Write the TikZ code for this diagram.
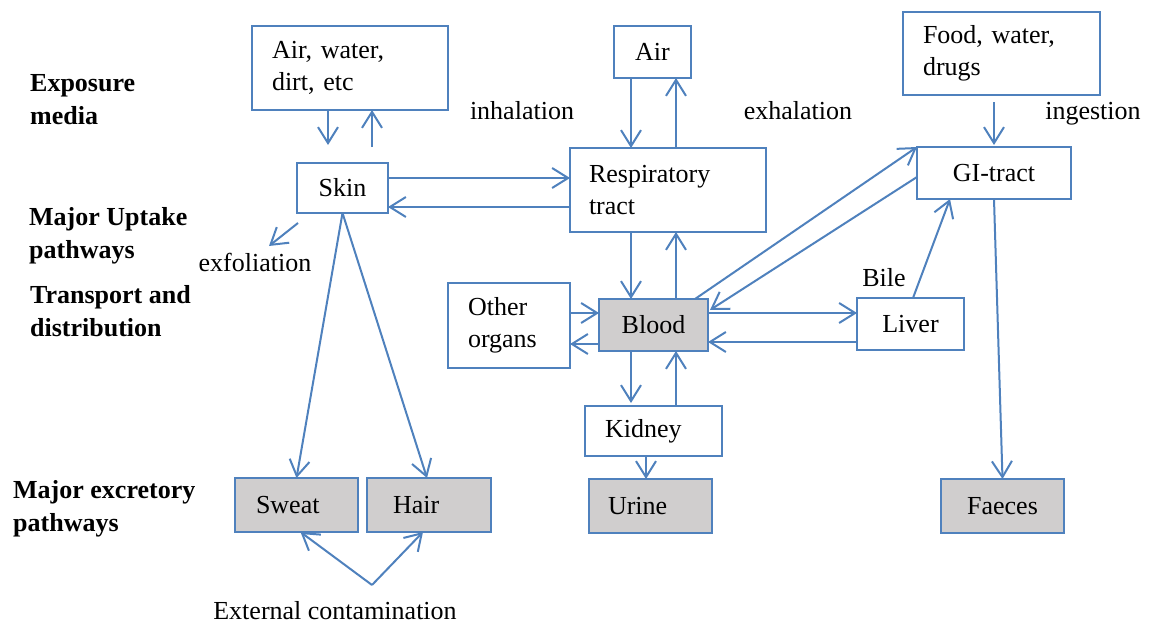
\documentclass[tikz,border=0pt]{standalone}
\usepackage{fontspec}
\setmainfont{Liberation Serif}
\usetikzlibrary{arrows.meta}
\definecolor{bl}{HTML}{4F81BD}
\definecolor{gr}{HTML}{D0CECE}
\frenchspacing
\begin{document}
\begin{tikzpicture}[x=1pt,y=-1pt,
  every node/.style={font=\fontsize{26}{32}\selectfont\frenchspacing},
  bx/.style={draw=bl, line width=2pt, inner sep=0pt, outer sep=0pt, fill=white},
  gbx/.style={bx, fill=gr},
  arr/.style={draw=bl, line width=2pt, -{Straight Barb[length=16pt,width=20pt]}},
  lab/.style={inner sep=0pt, text height=18pt, text depth=6pt},
  side/.style={inner sep=0pt, anchor=west, align=left, font=\fontsize{26}{33}\selectfont\bfseries}]
\useasboundingbox (0,0) rectangle (1157,626);

% side labels
\node[side] (l1) at (30,100) {Exposure\\media};
\node[side] (l2) at (29,236) {Major Uptake\\pathways};
\node[side] (l3) at (30,311.5) {Transport and\\distribution};
\node[side] (l4) at (13,508.5) {Major excretory\\pathways};

% boxes
\node[bx, minimum width=196pt, minimum height=84pt, text width=156pt, inner xsep=20pt, align=left] (media) at (350,68) {Air, water,\\dirt, etc};
\node[bx, minimum width=91pt, minimum height=50pt] (skin) at (342.5,188) {Skin};
\node[bx, minimum width=77pt, minimum height=52pt] (air) at (652.5,52) {Air};
\node[bx, minimum width=196pt, minimum height=84pt, text width=158pt, inner xsep=19pt, align=left] (resp) at (668,190) {Respiratory\\tract};
\node[bx, minimum width=197pt, minimum height=83pt, text width=157pt, inner xsep=20pt, align=left] (food) at (1001.5,53.5) {Food, water,\\drugs};
\node[bx, minimum width=154pt, minimum height=52pt] (gi) at (994,173) {GI-tract};
\node[bx, minimum width=122pt, minimum height=85pt, text width=82pt, inner xsep=20pt, align=left] (other) at (509,325.5) {Other\\organs};
\node[gbx, minimum width=109pt, minimum height=52pt] (blood) at (653.5,325) {Blood};
\node[bx, minimum width=107pt, minimum height=52pt] (liver) at (910.5,324) {Liver};
\node[bx, minimum width=137pt, minimum height=50pt, text width=97pt, inner xsep=20pt, align=left] (kidney) at (653.5,431) {Kidney};
\node[gbx, minimum width=123pt, minimum height=54pt, text width=85pt, inner xsep=19pt, align=left] (urine) at (650.5,506) {Urine};
\node[gbx, minimum width=123pt, minimum height=54pt, text width=81pt, inner xsep=21pt, align=left] (sweat) at (296.5,505) {Sweat};
\node[gbx, minimum width=124pt, minimum height=54pt, text width=72pt, inner xsep=26pt, align=left] (hair) at (429,505) {Hair};
\node[gbx, minimum width=123pt, minimum height=54pt] (faeces) at (1002.5,506) {Faeces};

% free labels
\node[lab] (inh) at (522,113) {inhalation};
\node[lab] (exh) at (798,113) {exhalation};
\node[lab] (ing) at (1093,113) {ingestion};
\node[lab] (exf) at (255,265) {exfoliation};
\node[lab] (bile) at (884,280) {Bile};
\node[lab] (ext) at (335,613) {External contamination};

% connectors
\draw[arr, shorten >=18pt] ([xshift=-22pt]media.south) -- ([xshift=-22pt]media.south |- skin.north);
\draw[arr, shorten <=16pt] ([xshift=22pt]media.south |- skin.north) -- ([xshift=22pt]media.south);

\draw[arr] ([yshift=10pt]skin.east) -- ([yshift=10pt]skin.east -| resp.west);
\draw[arr] ([yshift=-19pt]skin.east -| resp.west) -- ([yshift=-19pt]skin.east);

\draw[arr] ([xshift=-21.5pt]air.south) -- ([xshift=-21.5pt]air.south |- resp.north);
\draw[arr] ([xshift=23.5pt]air.south |- resp.north) -- ([xshift=23.5pt]air.south);

\draw[arr] ([xshift=-22.5pt]blood.north |- resp.south) -- ([xshift=-22.5pt]blood.north);
\draw[arr] ([xshift=22.5pt]blood.north) -- ([xshift=22.5pt]blood.north |- resp.south);

\draw[arr, shorten >=3pt] ([xshift=-22.5pt]blood.south) -- ([xshift=-22.5pt]blood.south |- kidney.north);
\draw[arr] ([xshift=22.5pt]blood.south |- kidney.north) -- ([xshift=22.5pt]blood.south);

\draw[arr] ([xshift=-7.5pt]kidney.south) -- ([xshift=-7.5pt]kidney.south |- urine.north);

\draw[arr] ([yshift=12pt]blood.west -| other.east) -- ([yshift=12pt]blood.west);
\draw[arr] ([yshift=-19pt]blood.west) -- ([yshift=-19pt]blood.west -| other.east);

\draw[arr] ([yshift=12pt]blood.east) -- ([yshift=12pt]blood.east -| liver.west);
\draw[arr] ([yshift=-17pt]blood.east -| liver.west) -- ([yshift=-17pt]blood.east);

\draw[arr] ([xshift=-13pt]blood.north east) -- (gi.north west);
\draw[arr] ([yshift=-4pt]gi.west) -- ([xshift=2pt,yshift=-11pt]blood.north east);

\draw[arr] ([xshift=2.5pt]liver.north) -- ([xshift=-44pt]gi.south);
\draw[arr] (gi.south) -- (faeces.north);
\draw[arr, shorten >=2pt] ([xshift=-7.5pt,yshift=-7pt]food.south) -- (gi.north);

\draw[arr] (skin.south) -- (sweat.north);
\draw[arr] (skin.south) -- ([xshift=-2pt]hair.north);

\coordinate (exfend) at (269,246);
\draw[arr] ([xshift=1pt,yshift=-10pt]skin.south west) -- (exfend);

\coordinate (extapex) at (372,585);
\draw[arr] (extapex) -- ([xshift=4pt]sweat.south);
\draw[arr] (extapex) -- ([xshift=-6pt]hair.south);
\end{tikzpicture}
\end{document}
